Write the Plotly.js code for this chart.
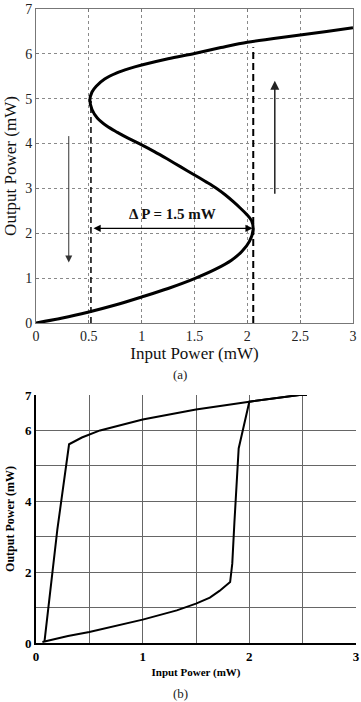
<!DOCTYPE html>
<html>
<head>
<meta charset="utf-8">
<script src="https://cdn.plot.ly/plotly-3.0.1.min.js"></script>
<style>html,body{margin:0;padding:0;background:#fff;}#chart{width:361px;height:702px;}</style>
</head>
<body>
<div id="chart"></div>
<script>
// (a) simulated bistable S-curve
const simInput = [0, 0.25, 0.5, 0.75, 1.0, 1.25, 1.5, 1.7, 1.85, 1.95, 2.02, 2.055, 2.04, 1.99, 1.93, 1.87, 1.79, 1.71, 1.6, 1.5, 1.37, 1.24, 1.12, 1.0, 0.88, 0.77, 0.67, 0.58, 0.53, 0.51, 0.53, 0.57, 0.65, 0.76, 0.88, 1.0, 1.25, 1.5, 1.75, 2.0, 2.25, 2.5, 2.75, 3.0];
const simOutput = [0, 0.11, 0.245, 0.4, 0.58, 0.77, 0.99, 1.2, 1.4, 1.6, 1.82, 2.08, 2.28, 2.43, 2.57, 2.7, 2.86, 3.0, 3.16, 3.3, 3.48, 3.66, 3.82, 3.97, 4.11, 4.25, 4.39, 4.57, 4.76, 4.97, 5.15, 5.28, 5.44, 5.57, 5.67, 5.75, 5.89, 6.01, 6.14, 6.26, 6.34, 6.42, 6.5, 6.58];
// switching thresholds (dashed markers)
const downThreshX = [0.52, 0.52];
const downThreshY = [0, 4.95];
const upThreshX = [2.056, 2.056];
const upThreshY = [0, 6.15];
const deltaLabel = "Δ P = 1.5 mW";

// (b) measured hysteresis loop
const upInput = [0.06, 0.3, 0.5, 0.75, 1.0, 1.32, 1.5, 1.63, 1.72, 1.82, 1.84, 1.86, 1.9, 2.0, 2.25, 2.47, 2.54];
const upOutput = [0.03, 0.2, 0.31, 0.48, 0.66, 0.92, 1.11, 1.28, 1.47, 1.72, 2.24, 3.4, 5.49, 6.81, 6.92, 7.0, 7.0];
const downInput = [2.54, 2.47, 2.0, 1.5, 1.0, 0.6, 0.43, 0.31, 0.2, 0.08];
const downOutput = [7.0, 7.0, 6.81, 6.59, 6.31, 6.0, 5.8, 5.61, 3.2, 0.05];

const yTicksB = [0, 2, 4, 6, 7];
const xTicksB = [0, 1, 2, 3];

const serif = "Liberation Serif, Times New Roman, serif";

const traces = [
  {x: simInput, y: simOutput, xaxis: 'x', yaxis: 'y', mode: 'lines',
   line: {color: '#000', width: 3, shape: 'spline', smoothing: 0.9}, hoverinfo: 'skip'},
  {x: downThreshX, y: downThreshY, xaxis: 'x', yaxis: 'y', mode: 'lines',
   line: {color: '#000', width: 1.5, dash: '6px,4px'}, hoverinfo: 'skip'},
  {x: upThreshX, y: upThreshY, xaxis: 'x', yaxis: 'y', mode: 'lines',
   line: {color: '#000', width: 2, dash: '7px,4px'}, hoverinfo: 'skip'},
  {x: upInput, y: upOutput, xaxis: 'x2', yaxis: 'y2', mode: 'lines',
   line: {color: '#000', width: 2}, hoverinfo: 'skip'},
  {x: downInput, y: downOutput, xaxis: 'x2', yaxis: 'y2', mode: 'lines',
   line: {color: '#000', width: 2}, hoverinfo: 'skip'}
];

const H = 702, T = 9, B = 59;
const ph = H - T - B;
function py(px) { return (H - B - px) / ph; }

const layout = {
  width: 361, height: 702,
  margin: {l: 36, r: 5, t: T, b: B},
  paper_bgcolor: '#fff', plot_bgcolor: '#fff',
  showlegend: false,
  font: {family: serif, color: '#000'},
  xaxis: {
    domain: [0, 0.9906], anchor: 'y', range: [0, 3],
    tickvals: [0, 0.5, 1, 1.5, 2, 2.5, 3], ticktext: ['0', '0.5', '1', '1.5', '2', '2.5', '3'],
    showgrid: true, gridcolor: '#8a8a8a', griddash: 'dot', gridwidth: 1,
    showline: true, linecolor: '#777', linewidth: 1, mirror: 'ticks',
    ticks: 'inside', ticklen: 3, tickcolor: '#777', zeroline: false,
    tickfont: {family: serif, size: 14, color: '#222'},
    title: {text: 'Input Power (mW)', font: {family: serif, size: 17, color: '#111'}, standoff: 3}
  },
  yaxis: {
    domain: [py(323), 1], anchor: 'x', range: [0, 7],
    tickvals: [0, 1, 2, 3, 4, 5, 6, 7],
    showgrid: true, gridcolor: '#8a8a8a', griddash: 'dot', gridwidth: 1,
    showline: true, linecolor: '#777', linewidth: 1, mirror: 'ticks',
    ticks: 'inside', ticklen: 3, tickcolor: '#777', zeroline: false,
    tickfont: {family: serif, size: 14, color: '#222'},
    title: {text: 'Output Power (mW)', font: {family: serif, size: 17, color: '#111'}, standoff: 4}
  },
  xaxis2: {
    domain: [0, 1], anchor: 'y2', range: [0, 3],
    tickvals: xTicksB,
    minor: {dtick: 0.5, tick0: 0, showgrid: true, gridcolor: '#666', gridwidth: 1},
    showgrid: true, gridcolor: '#666', gridwidth: 1,
    showline: true, linecolor: '#000', linewidth: 2, mirror: false,
    ticks: '', zeroline: false,
    tickfont: {family: serif, size: 13, weight: 'bold'},
    title: {text: 'Input Power (mW)', font: {family: serif, size: 11, weight: 'bold'}, standoff: 6}
  },
  yaxis2: {
    domain: [0, py(395)], anchor: 'x2', range: [0, 7],
    tickvals: yTicksB,
    minor: {dtick: 1, tick0: 0, showgrid: true, gridcolor: '#666', gridwidth: 1},
    showgrid: true, gridcolor: '#666', gridwidth: 1,
    showline: true, linecolor: '#000', linewidth: 2, mirror: false,
    ticks: '', zeroline: false,
    tickfont: {family: serif, size: 13, weight: 'bold'},
    title: {text: 'Output Power (mW)', font: {family: serif, size: 12, weight: 'bold'}, standoff: 8}
  },
  annotations: [
    {xref: 'x', yref: 'y', x: 2.05, y: 2.11, ax: 0.53, ay: 2.11, axref: 'x', ayref: 'y',
     text: '', showarrow: true, arrowhead: 2, startarrowhead: 2, arrowside: 'end+start',
     arrowsize: 1.2, startarrowsize: 1.2, arrowwidth: 1.2, arrowcolor: '#000'},
    {xref: 'x', yref: 'y', x: 1.29, y: 2.42, text: '<b>' + deltaLabel + '</b>', showarrow: false,
     font: {family: serif, size: 15, color: '#111'}},
    {xref: 'x', yref: 'y', x: 0.31, y: 1.35, ax: 0.31, ay: 4.2, axref: 'x', ayref: 'y',
     text: '', showarrow: true, arrowhead: 2, arrowsize: 1.4, arrowwidth: 1, arrowcolor: '#333'},
    {xref: 'x', yref: 'y', x: 2.26, y: 5.4, ax: 2.26, ay: 2.85, axref: 'x', ayref: 'y',
     text: '', showarrow: true, arrowhead: 2, arrowsize: 1.2, arrowwidth: 1.5, arrowcolor: '#222'},
    {xref: 'paper', yref: 'paper', x: 0.45, y: py(374), yanchor: 'middle', text: '(a)', showarrow: false,
     font: {family: serif, size: 13, color: '#222'}},
    {xref: 'paper', yref: 'paper', x: 0.45, y: py(693), yanchor: 'middle', text: '(b)', showarrow: false,
     font: {family: serif, size: 13, color: '#222'}}
  ]
};

Plotly.newPlot('chart', traces, layout, {staticPlot: true, displayModeBar: false});
</script>
</body>
</html>
